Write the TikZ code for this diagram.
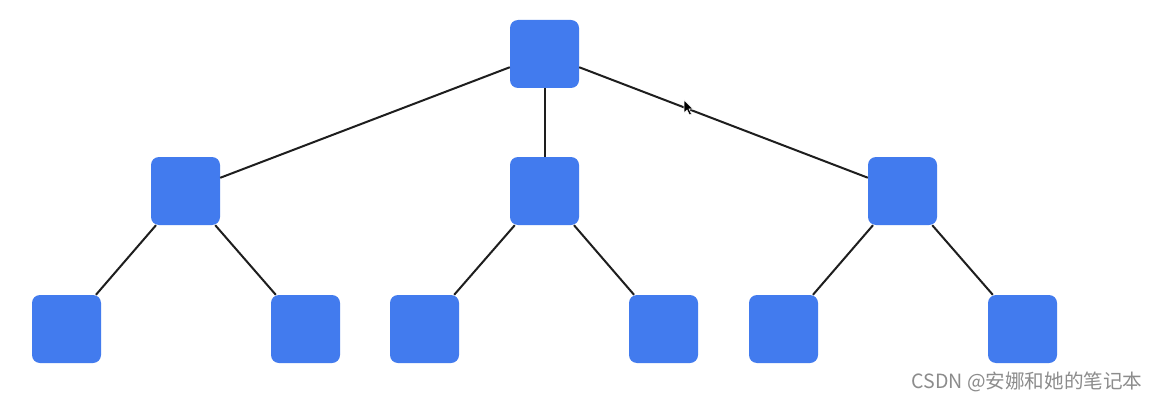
\documentclass[tikz,border=0pt]{standalone}
\usepackage{fontspec}
\newfontfamily\cjk{Noto Sans CJK SC}
\definecolor{nodeblue}{RGB}{66,123,238}
\definecolor{edgecol}{RGB}{30,30,30}
\definecolor{wmgray}{RGB}{140,140,140}
\begin{document}
\begin{tikzpicture}[x=1pt,y=-1pt,
  sq/.style={rectangle,fill=nodeblue,draw=none,minimum width=69pt,minimum height=68pt,rounded corners=8pt,inner sep=0pt},
  edge/.style={draw=edgecol,line width=2pt}]
\useasboundingbox[fill=white] (0,0) rectangle (1158,401);
\node[sq] (r) at (544.5,54) {};
\node[sq] (a) at (185.5,191) {};
\node[sq] (b) at (544.5,191) {};
\node[sq] (c) at (902.5,191) {};
\node[sq] (a1) at (66.5,329) {};
\node[sq] (a2) at (305.5,329) {};
\node[sq] (b1) at (424.5,329) {};
\node[sq] (b2) at (663.5,329) {};
\node[sq] (c1) at (783.5,329) {};
\node[sq] (c2) at (1022.5,329) {};
\draw[edge] (r) -- (a);
\draw[edge] (r) -- (b);
\draw[edge] (r) -- (c);
\draw[edge] (a) -- (a1);
\draw[edge] (a) -- (a2);
\draw[edge] (b) -- (b1);
\draw[edge] (b) -- (b2);
\draw[edge] (c) -- (c1);
\draw[edge] (c) -- (c2);
% mouse cursor
\fill[black,draw=white,line width=0.6pt] (684,100) -- (684,113) -- (687,110) -- (689.5,115) -- (691.5,114) -- (689,109) -- (693,109) -- cycle;
\node[text=wmgray,font=\cjk\fontsize{19.6}{22}\selectfont,anchor=center] (wm) at (1027,382) {CSDN @安娜和她的笔记本};
\end{tikzpicture}
\end{document}
